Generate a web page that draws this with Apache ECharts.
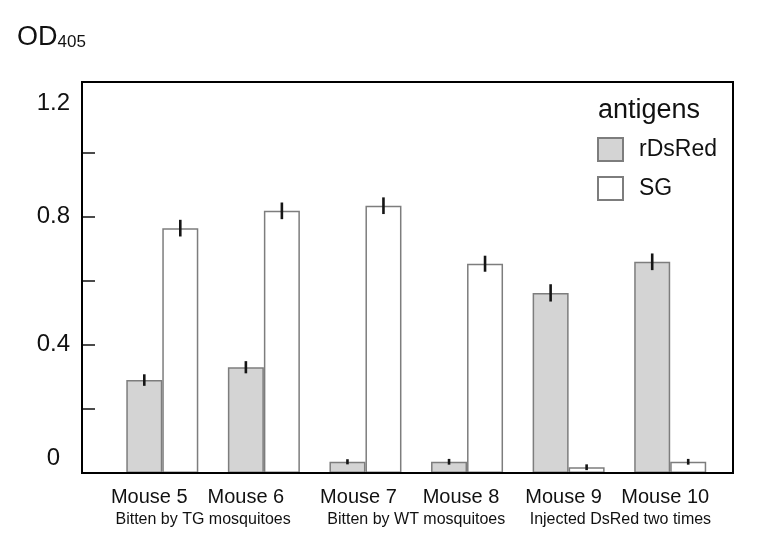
<!DOCTYPE html>
<html>
<head>
<meta charset="utf-8">
<script src="https://cdn.jsdelivr.net/npm/echarts@6/dist/echarts.min.js"></script>
<style>
  html, body { margin: 0; padding: 0; background: #fff; }
  #chart { width: 762px; height: 556px; }
</style>
</head>
<body>
<div id="chart"></div>
<script>
// ---- data ----
const categories = ['Mouse 5', 'Mouse 6', 'Mouse 7', 'Mouse 8', 'Mouse 9', 'Mouse 10'];
const groups = ['Bitten by TG mosquitoes', 'Bitten by WT mosquitoes', 'Injected DsRed two times'];
const seriesNames = ['rDsRed', 'SG'];
const rDsRed = [0.290, 0.330, 0.035, 0.035, 0.562, 0.659];
const rDsRedErr = [0.018, 0.019, 0.008, 0.009, 0.027, 0.026];
const sg = [0.764, 0.818, 0.834, 0.653, 0.018, 0.035];
const sgErr = [0.026, 0.026, 0.026, 0.025, 0.009, 0.009];
const yTickValues = [0.2, 0.4, 0.6, 0.8, 1.0];
const yLabelValues = [0, 0.4, 0.8, 1.2];
const yMin = 0;
const yMax = 1.22;

// ---- styling ----
const FONT = "'Liberation Sans', Arial, Helvetica, sans-serif";
const BAR_W = 36;
const catLabelShift = [-13, -18, -7, -6, -5, -5];
const groupLabelShift = [-10, 0, 1];

const chart = echarts.init(document.getElementById('chart'), null, { renderer: 'canvas' });

function errData(vals, errs) {
  return vals.map((v, i) => [i, v - errs[i], v + errs[i]]);
}
function errSeries(name, vals, errs, side) {
  return {
    type: 'custom',
    name: name + ' err',
    xAxisIndex: 1,
    yAxisIndex: 1,
    z: 10,
    silent: true,
    data: errData(vals, errs),
    renderItem: function (params, api) {
      const lo = api.coord([api.value(0), api.value(1)]);
      const hi = api.coord([api.value(0), api.value(2)]);
      const x = lo[0] + side * BAR_W / 2;
      return {
        type: 'line',
        shape: { x1: x, y1: lo[1], x2: x, y2: hi[1] },
        style: { stroke: '#151515', lineWidth: 2.6 }
      };
    }
  };
}

const catRich = {};
catLabelShift.forEach((s, i) => {
  catRich['c' + i] = { fontSize: 20, color: '#111', fontFamily: FONT,
    padding: s < 0 ? [0, -2 * s, 0, 0] : [0, 0, 0, 2 * s] };
});
const grpRich = {};
groupLabelShift.forEach((s, i) => {
  grpRich['g' + i] = { fontSize: 16, color: '#111', fontFamily: FONT,
    padding: s < 0 ? [0, -2 * s, 0, 0] : [0, 0, 0, 2 * s] };
});

const option = {
  backgroundColor: '#fff',
  animation: false,
  title: [
    {
      text: 'OD{s|405}',
      left: 17, top: 24, padding: 0,
      textStyle: {
        fontSize: 27, fontWeight: 'normal', color: '#111', fontFamily: FONT,
        rich: { s: { fontSize: 17, color: '#111', fontFamily: FONT, verticalAlign: 'bottom' } }
      }
    },
    {
      text: 'antigens',
      left: 598, top: 97, padding: 0,
      textStyle: { fontSize: 27, fontWeight: 'normal', color: '#111', fontFamily: FONT }
    }
  ],
  legend: {
    data: seriesNames,
    orient: 'vertical',
    left: 597, top: 137,
    padding: 0,
    icon: 'rect',
    itemWidth: 25, itemHeight: 23, itemGap: 14,
    selectedMode: false,
    textStyle: { fontSize: 23, color: '#111', fontFamily: FONT, padding: [4, 0, 0, 11] }
  },
  grid: [
    { left: 82, right: 29, top: 82, bottom: 83, show: true, borderColor: '#000', borderWidth: 2,
      backgroundColor: 'transparent', z: 5 },
    { left: 111.5, right: 41, top: 82, bottom: 83 }
  ],
  xAxis: [
    { gridIndex: 0, type: 'category', data: categories, show: false },
    {
      gridIndex: 1, type: 'category', data: categories,
      axisLine: { show: false }, axisTick: { show: false },
      axisLabel: {
        margin: 14, interval: 0,
        formatter: (v, i) => '{c' + i + '|' + v + '}',
        rich: catRich
      }
    },
    {
      gridIndex: 1, type: 'category', data: groups, position: 'bottom',
      axisLine: { show: false }, axisTick: { show: false },
      axisLabel: {
        margin: 39, interval: 0,
        formatter: (v, i) => '{g' + i + '|' + v + '}',
        rich: grpRich
      }
    }
  ],
  yAxis: [
    {
      gridIndex: 0, type: 'value', min: yMin, max: yMax,
      axisLine: { show: false },
      splitLine: { show: false },
      axisTick: { show: true, inside: true, length: 13, customValues: yTickValues,
        lineStyle: { color: '#111', width: 1.5 } },
      axisLabel: {
        customValues: yLabelValues,
        margin: 12,
        formatter: function (v) {
          if (v === 0) return '{z|0}';
          if (Math.abs(v - 1.2) < 1e-9) return '{t|1.2}';
          return '{n|' + v.toFixed(1) + '}';
        },
        rich: {
          n: { fontSize: 24, color: '#111', fontFamily: FONT },
          t: { fontSize: 24, color: '#111', fontFamily: FONT, padding: [30, 0, 0, 0] },
          z: { fontSize: 24, color: '#111', fontFamily: FONT, padding: [0, 10, 30, 0] }
        }
      }
    },
    { gridIndex: 1, type: 'value', min: yMin, max: yMax, show: false }
  ],
  series: [
    {
      name: seriesNames[0], type: 'bar', xAxisIndex: 1, yAxisIndex: 1,
      data: rDsRed, barWidth: BAR_W, barGap: '0%',
      itemStyle: { color: '#d4d4d4', borderColor: '#7d7d7d', borderWidth: 1.5 }
    },
    {
      name: seriesNames[1], type: 'bar', xAxisIndex: 1, yAxisIndex: 1,
      data: sg, barWidth: BAR_W, barGap: '0%',
      itemStyle: { color: '#ffffff', borderColor: '#7d7d7d', borderWidth: 1.5 }
    },
    errSeries(seriesNames[0], rDsRed, rDsRedErr, -1),
    errSeries(seriesNames[1], sg, sgErr, 1)
  ]
};
chart.setOption(option);
</script>
</body>
</html>
